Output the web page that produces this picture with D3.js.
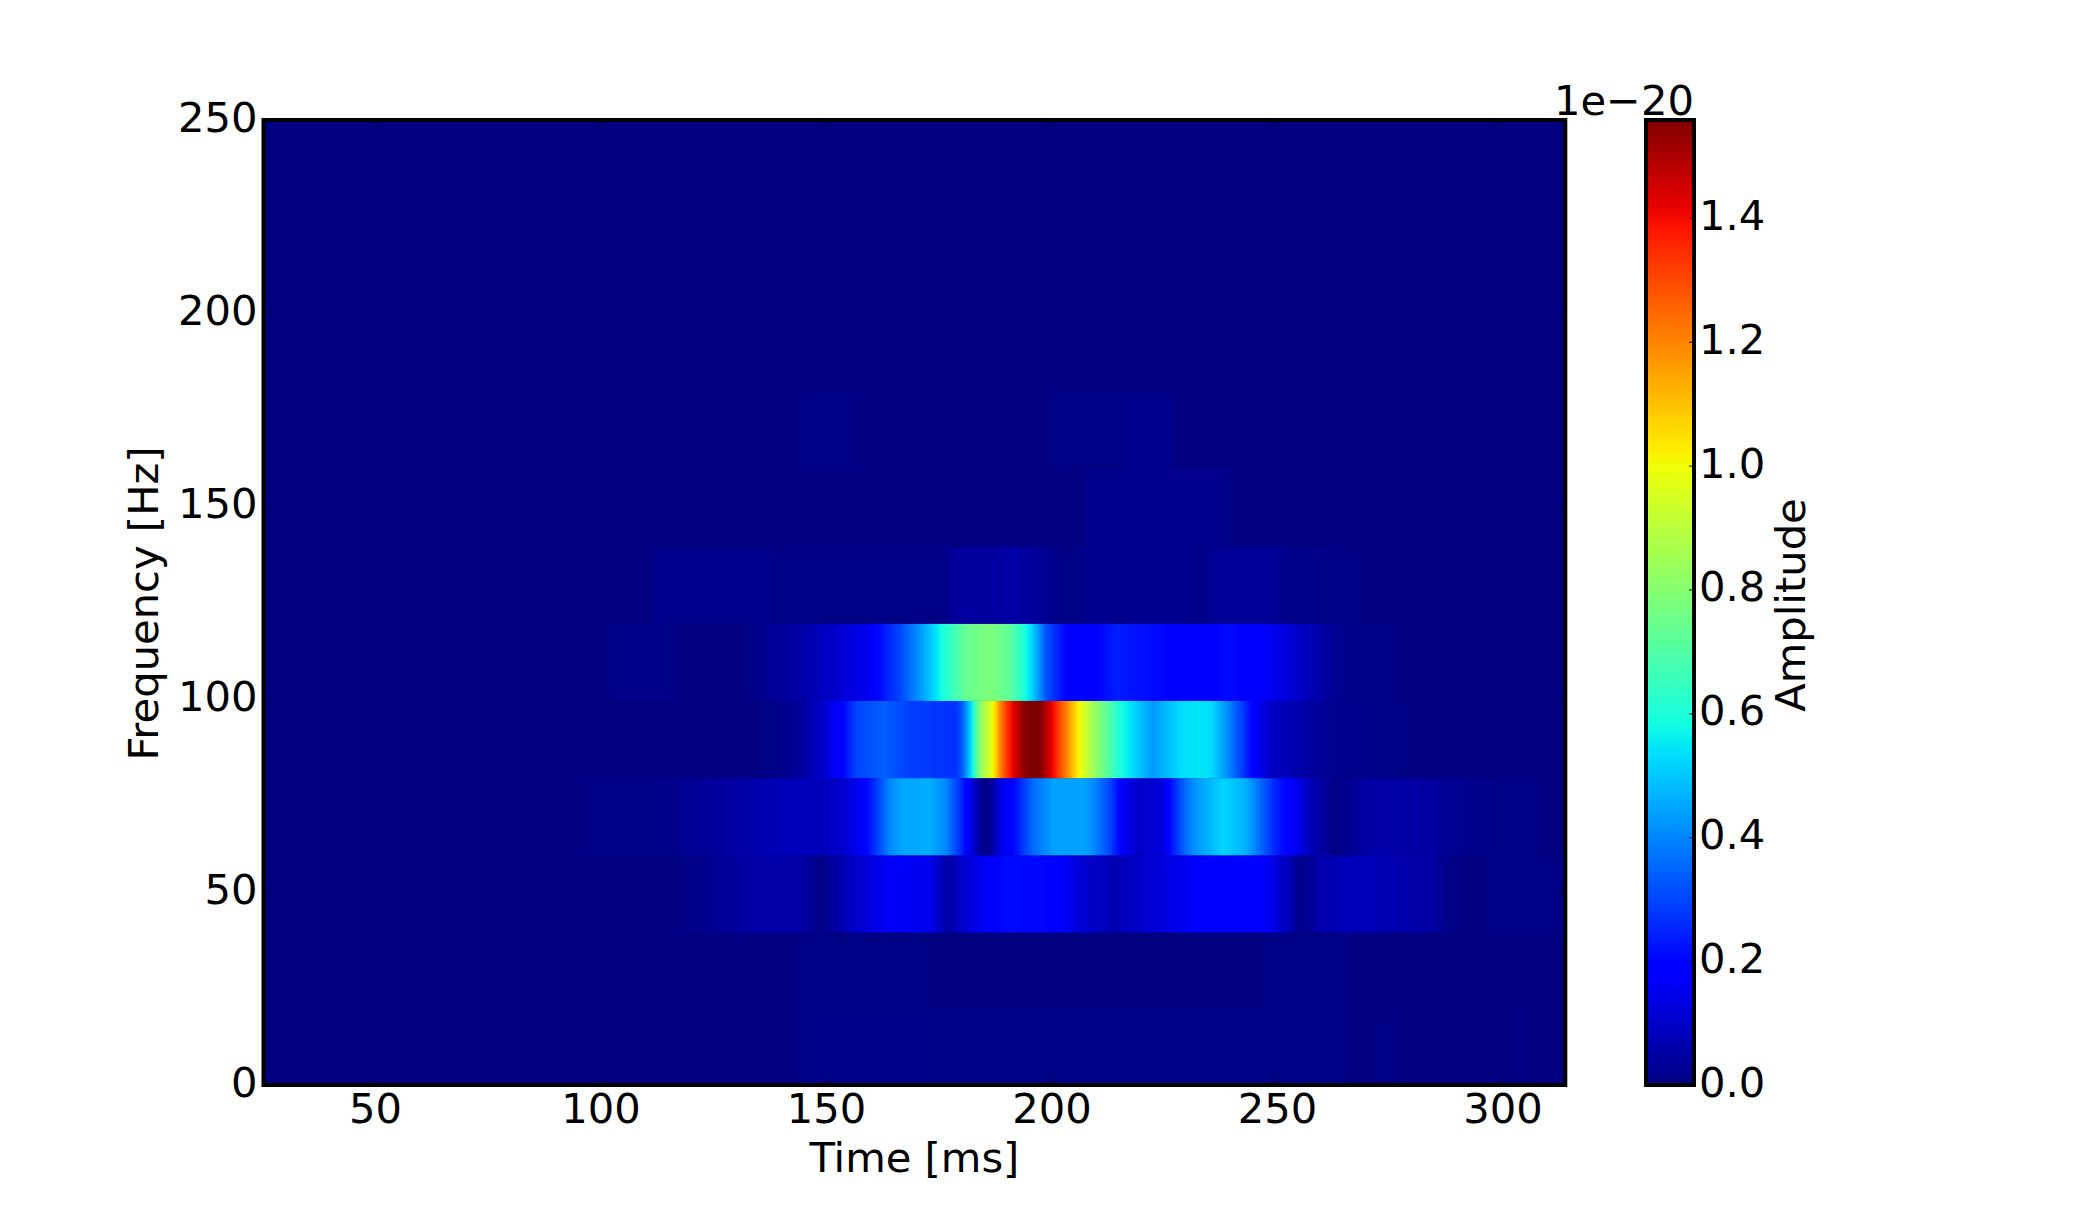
<!DOCTYPE html>
<html>
<head>
<meta charset="utf-8">
<script src="https://cdnjs.cloudflare.com/ajax/libs/d3/7.8.5/d3.min.js"></script>
<style>
  html, body { margin: 0; padding: 0; background: #fff; }
  svg { display: block; }
  text { font-family: "DejaVu Sans", sans-serif; font-size: 41.67px; fill: #000; }
</style>
</head>
<body>
<svg id="chart" width="2100" height="1206"></svg>
<script>
// Spectrogram amplitude per 20 Hz frequency band, in units of 1e-20.
// Each entry is [time in ms, amplitude].
const band10 = [[25,.002],[143,.003],[144,.012],[165,.013],[166,.018],[172,.018],[173,.011],[190,.011],[191,.009],[247,.009],[248,.011],[265,.011],[266,.004],[272,.004],[273,.011],[277,.011],[278,.004],[302,.004],[303,.007],[314,.004]];
const band30 = [[25,.002],[143,.003],[144,.01],[166,.01],[167,.008],[172,.008],[173,.004],[247,.004],[248,.01],[265,.01],[266,.005],[288,.004],[289,.002],[314,.002]];
const band50 = [[25,.002],[78,.003],[106,.003],[116,.004],[126.5,.03],[135,.06],[143.5,.06],[148.7,.012],[156.6,.1],[164.3,.17],[173.2,.15],[177,.05],[182,.13],[189.7,.21],[199.9,.2],[206.3,.12],[213.9,.07],[224,.125],[235.5,.19],[245.7,.2],[252,.09],[255,.02],[257.3,.03],[259.5,.065],[266,.085],[270.6,.08],[277,.065],[284.6,.05],[288,.015],[292,.003],[306.8,.012],[314,.01]];
const band70 = [[25,.002],[91,.004],[111,.012],[121,.03],[130,.05],[140,.08],[148.7,.08],[154,.11],[158,.17],[161,.27],[164,.4],[166.8,.45],[173,.46],[176.7,.4],[179.7,.27],[182,.15],[184.1,.04],[185.6,.01],[187,.05],[188.5,.13],[191.5,.2],[196,.36],[200.4,.44],[207.8,.44],[211,.36],[213,.3],[216,.16],[219.6,.1],[224.8,.13],[226.6,.22],[229,.33],[231,.4],[233,.44],[238,.52],[243,.47],[249.6,.25],[255,.14],[258,.07],[263,.01],[266,.025],[271,.055],[277,.055],[284.6,.045],[287.6,.03],[299.4,.012],[314,.003]];
const band90 = [[25,.002],[108,.004],[109,.006],[122.8,.006],[128,.002],[134,.002],[141,.02],[144.2,.035],[150.1,.12],[153.8,.2],[156.8,.3],[162.7,.34],[168.6,.29],[178.9,.27],[180.4,.35],[182.3,.55],[184.1,.8],[187.1,1],[188.5,1.18],[190,1.32],[191.5,1.42],[194.5,1.558],[197.4,1.558],[200.4,1.4],[203.3,1.2],[206.3,1],[209.2,.85],[215.1,.6],[222.5,.43],[228.4,.53],[232.9,.55],[235.5,.53],[239.4,.4],[244.5,.2],[248.3,.1],[258.5,.04],[262,.025],[279.5,.005],[314,.002]];
const band110 = [[25,.002],[85,.003],[102,.004],[103.6,.016],[114,.014],[119,.005],[131,.002],[137.6,.03],[144.2,.055],[159,.15],[161.2,.2],[166.4,.3],[172.3,.47],[175.2,.57],[176.7,.62],[181.2,.74],[186.3,.78],[190.8,.72],[194.5,.58],[196,.5],[198.9,.32],[203.3,.2],[207,.17],[214.4,.24],[225.5,.2],[232.9,.17],[238.8,.21],[245,.19],[255,.098],[262.5,.03],[270,.01],[280,.005],[314,.003]];
const band130 = [[25,.002],[110,.003],[113.5,.022],[136,.024],[140,.007],[176,.008],[179,.045],[193,.05],[198,.03],[203,.008],[208.4,.02],[231,.022],[233,.012],[236.9,.035],[248.3,.035],[252,.018],[266,.008],[272,.002],[314,.002]];
const band150 = [[25,.002],[170,.002],[195,.004],[207,.006],[209.5,.024],[237,.024],[240,.006],[255,.004],[258,.002],[314,.002]];
const band170 = [[25,.002],[143,.002],[145,.007],[157,.007],[160,.002],[196,.002],[198,.006],[215,.007],[216,.022],[226.5,.022],[228,.005],[240,.005],[243,.002],[314,.002]];
const band190 = [[25,.002],[314,.002]];
const band210 = [[25,.002],[314,.002]];
const band230 = [[25,.002],[314,.002]];
const band250 = [[25,.002],[314,.002]];

const frequencyBands = [10, 30, 50, 70, 90, 110, 130, 150, 170, 190, 210, 230, 250];
const amplitudeBands = [band10, band30, band50, band70, band90, band110, band130, band150, band170, band190, band210, band230, band250];
const bandHalfWidth = 10;
const bandOffset = -0.5;

const timeTicks = [50, 100, 150, 200, 250, 300];
const frequencyTicks = [0, 50, 100, 150, 200, 250];
const amplitudeTicks = [0, 0.2, 0.4, 0.6, 0.8, 1.0, 1.2, 1.4];
const timeDomain = [25.3, 313.9];
const frequencyDomain = [0, 250];
const amplitudeDomain = [0, 1.558];

const plot = { left: 263.5, right: 1565.3, top: 120, bottom: 1085 };
const bar = { left: 1646, right: 1694 };

const x = d3.scaleLinear().domain(timeDomain).range([plot.left, plot.right]);
const y = d3.scaleLinear().domain(frequencyDomain).range([plot.bottom, plot.top]);
const c = d3.scaleLinear().domain(amplitudeDomain).range([plot.bottom, plot.top]);

// Jet colormap: one piecewise ramp per channel, quantised to 256 levels.
const jetRed = d3.scaleLinear().domain([0, 0.35, 0.66, 0.89, 1]).range([0, 0, 255, 255, 127.5]).clamp(true);
const jetGreen = d3.scaleLinear().domain([0, 0.125, 0.375, 0.64, 0.91, 1]).range([0, 0, 255, 255, 0, 0]).clamp(true);
const jetBlue = d3.scaleLinear().domain([0, 0.11, 0.34, 0.65, 1]).range([127.5, 255, 255, 0, 0]).clamp(true);
const jetExact = n => d3.rgb(jetRed(n), jetGreen(n), jetBlue(n)).formatRgb();
const jet = n => jetExact(Math.min(255, Math.floor(Math.max(0, n) * 256)) / 255);
const colorOf = v => jet(v / amplitudeDomain[1]);

const svg = d3.select("#chart");
const defs = svg.append("defs");

// One horizontal gradient per band, sampled every two pixels along the time axis.
const columns = d3.range(plot.left, plot.right + 2, 2);
amplitudeBands.forEach((band, i) => {
  const amp = d3.scaleLinear().domain(band.map(d => d[0])).range(band.map(d => d[1])).clamp(true);
  defs.append("linearGradient")
    .attr("id", "band-" + i)
    .attr("gradientUnits", "userSpaceOnUse")
    .attr("x1", plot.left).attr("x2", plot.right).attr("y1", 0).attr("y2", 0)
    .selectAll("stop").data(columns).join("stop")
    .attr("offset", px => Math.min(1, (px - plot.left) / (plot.right - plot.left)))
    .attr("stop-color", px => colorOf(amp(x.invert(px))));
});

svg.append("rect")
  .attr("x", plot.left).attr("y", plot.top)
  .attr("width", plot.right - plot.left).attr("height", plot.bottom - plot.top)
  .attr("fill", jet(0));

svg.append("g").selectAll("rect").data(frequencyBands).join("rect")
  .attr("x", plot.left)
  .attr("width", plot.right - plot.left)
  .attr("y", f => y(Math.min(frequencyDomain[1], f + bandHalfWidth + bandOffset)))
  .attr("height", f => y(Math.max(0, f - bandHalfWidth + bandOffset)) - y(Math.min(frequencyDomain[1], f + bandHalfWidth + bandOffset)))
  .attr("fill", (f, i) => `url(#band-${i})`);

// Axis helper: inward ticks, hairline, no domain path.
function styleAxis(g) {
  g.select(".domain").remove();
  g.selectAll(".tick line").attr("stroke", "#000").attr("stroke-width", 1);
}

const tickLen = 5;

svg.append("g").attr("transform", `translate(0,${plot.bottom})`)
  .call(d3.axisBottom(x).tickValues(timeTicks).tickSize(-tickLen).tickFormat(d3.format("d")))
  .call(styleAxis)
  .call(g => g.selectAll("text").attr("y", 38).attr("dy", 0).attr("text-anchor", "middle"));

svg.append("g").attr("transform", `translate(0,${plot.top})`)
  .call(d3.axisTop(x).tickValues(timeTicks).tickSize(-tickLen).tickFormat(""))
  .call(styleAxis);

svg.append("g").attr("transform", `translate(${plot.left},0)`)
  .call(d3.axisLeft(y).tickValues(frequencyTicks).tickSize(-tickLen).tickFormat(d3.format("d")))
  .call(styleAxis)
  .call(g => g.selectAll("text").attr("x", -6).attr("y", 11.5).attr("dy", 0).attr("text-anchor", "end"));

svg.append("g").attr("transform", `translate(${plot.right},0)`)
  .call(d3.axisRight(y).tickValues(frequencyTicks).tickSize(-tickLen).tickFormat(""))
  .call(styleAxis);

// Plot frame, drawn over the image and ticks.
svg.append("rect")
  .attr("x", plot.left).attr("y", plot.top)
  .attr("width", plot.right - plot.left).attr("height", plot.bottom - plot.top)
  .attr("fill", "none").attr("stroke", "#000").attr("stroke-width", 4);

// Colour bar
const barGradient = defs.append("linearGradient")
  .attr("id", "bar-gradient")
  .attr("x1", 0).attr("x2", 0).attr("y1", 1).attr("y2", 0);
barGradient.selectAll("stop").data(d3.range(0, 1.0001, 1 / 255)).join("stop")
  .attr("offset", d => d)
  .attr("stop-color", d => jetExact(d));

svg.append("rect")
  .attr("x", bar.left).attr("y", plot.top)
  .attr("width", bar.right - bar.left).attr("height", plot.bottom - plot.top)
  .attr("fill", "url(#bar-gradient)");

svg.append("g").attr("transform", `translate(${bar.right},0)`)
  .call(d3.axisRight(c).tickValues(amplitudeTicks).tickSize(-tickLen).tickFormat(d3.format(".1f")))
  .call(styleAxis)
  .call(g => g.selectAll("text").attr("x", 5).attr("y", 11.5).attr("dy", 0).attr("text-anchor", "start"));

svg.append("rect")
  .attr("x", bar.left).attr("y", plot.top)
  .attr("width", bar.right - bar.left).attr("height", plot.bottom - plot.top)
  .attr("fill", "none").attr("stroke", "#000").attr("stroke-width", 4);

svg.append("text")
  .attr("x", bar.right).attr("y", 115)
  .attr("text-anchor", "end")
  .text("1e\u221220");

// Axis titles
svg.append("text")
  .attr("x", (plot.left + plot.right) / 2).attr("y", 1172)
  .attr("text-anchor", "middle")
  .text("Time [ms]");

svg.append("text")
  .attr("transform", `translate(158,${(plot.top + plot.bottom) / 2 + 1}) rotate(-90)`)
  .attr("text-anchor", "middle")
  .text("Frequency [Hz]");

svg.append("text")
  .attr("transform", `translate(1805,${(plot.top + plot.bottom) / 2 + 2.5}) rotate(-90)`)
  .attr("text-anchor", "middle")
  .text("Amplitude");
</script>
</body>
</html>
